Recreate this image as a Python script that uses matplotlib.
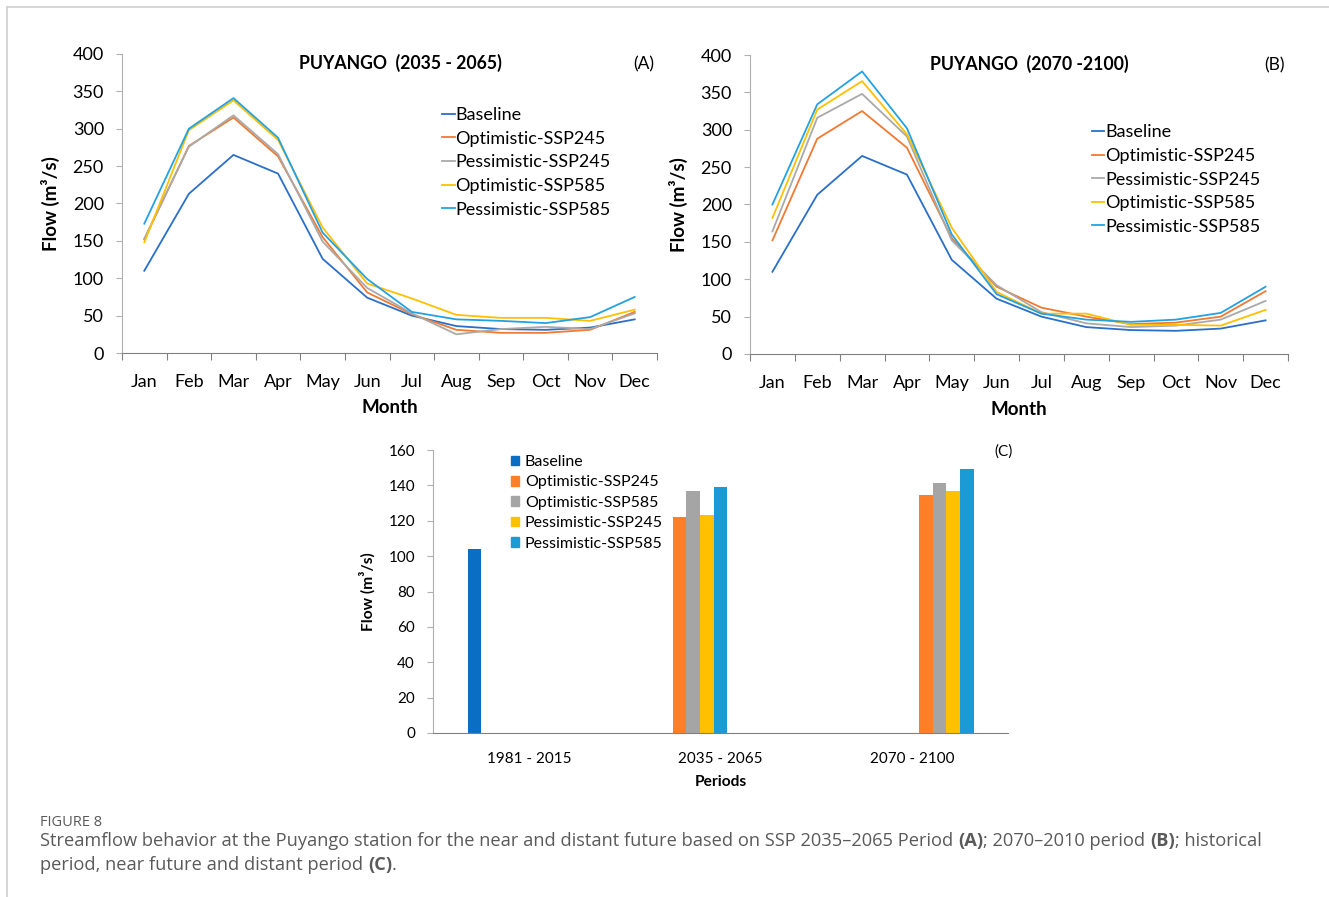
import numpy as np
import matplotlib
matplotlib.use("Agg")
import matplotlib.pyplot as plt
from matplotlib.lines import Line2D
from matplotlib.patches import Patch

# ---------------- data ----------------
months = ["Jan", "Feb", "Mar", "Apr", "May", "Jun", "Jul", "Aug", "Sep", "Oct", "Nov", "Dec"]
line_names = ["Baseline", "Optimistic-SSP245", "Pessimistic-SSP245", "Optimistic-SSP585", "Pessimistic-SSP585"]

baseline = [110, 213, 265, 240, 126, 74, 50, 36, 32, 31, 34, 45]

a_opt245 = [152, 277, 315, 263, 155, 81, 52, 31, 27, 27, 31, 55]
a_pes245 = [153, 276, 318, 266, 149, 87, 53, 25, 32, 35, 32, 53]
a_opt585 = [148, 298, 338, 285, 168, 93, 73, 51, 47, 47, 43, 58]
a_pes585 = [173, 300, 341, 288, 161, 99, 55, 45, 43, 40, 48, 75]

b_opt245 = [152, 288, 325, 276, 155, 90, 62, 50, 40, 42, 50, 84]
b_pes245 = [164, 316, 348, 291, 152, 92, 56, 41, 36, 38, 46, 71]
b_opt585 = [182, 327, 365, 294, 169, 83, 54, 54, 39, 39, 38, 59]
b_pes585 = [200, 334, 378, 302, 160, 80, 54, 46, 43, 46, 55, 90]

periods = ["1981 - 2015", "2035 - 2065", "2070 - 2100"]
bar_names = ["Baseline", "Optimistic-SSP245", "Optimistic-SSP585", "Pessimistic-SSP245", "Pessimistic-SSP585"]
bar_baseline = [104, None, None]
bar_opt245 = [None, 122, 134.5]
bar_opt585 = [None, 137, 141.5]
bar_pes245 = [None, 123, 137]
bar_pes585 = [None, 139, 149]

# ---------------- style ----------------
line_colors = ["#2A6FC9", "#F07A32", "#A9A9A9", "#FFC000", "#22A2E2"]
bar_colors = ["#0A6FC4", "#FF7F27", "#A5A5A5", "#FFC000", "#1B9AD6"]
FONT = "Lato"
W, H = 1329, 897
fig = plt.figure(figsize=(W / 100, H / 100), dpi=100)
plt.rcParams["font.family"] = [FONT, "DejaVu Sans"]


def ax_rect(l, r, t, b):
    return [l / W, 1 - b / H, (r - l) / W, (b - t) / H]


def style_line_axes(ax, xlabel_y):
    ax.set_xlim(-0.5, 11.5)
    ax.set_ylim(0, 400)
    ax.set_yticks(np.arange(0, 401, 50))
    ax.set_xticks(np.arange(-0.5, 12, 1))
    ax.set_xticklabels([])
    ax.set_xticks(np.arange(12), minor=True)
    ax.set_xticklabels(months, minor=True, fontsize=13)
    ax.tick_params(axis="x", which="major", length=5, color="#808080", direction="out")
    ax.tick_params(axis="x", which="minor", length=0, pad=15)
    ax.tick_params(axis="y", length=4, color="#B0B0B0", labelsize=13, pad=9)
    for s in ["top", "right"]:
        ax.spines[s].set_visible(False)
    ax.spines["left"].set_color("#B0B0B0")
    ax.spines["bottom"].set_color("#808080")
    ax.set_ylabel("Flow (m³/s)", fontsize=13.5, fontweight="bold")
    ax.yaxis.set_label_coords(-0.116, 0.5)
    ax.set_xlabel("Month", fontsize=13.5, fontweight="bold")
    ax.xaxis.set_label_coords(0.5, xlabel_y)


def draw_lines(ax, series, title, tag, title_x, leg_xy, xlabel_y):
    x = np.arange(12)
    handles = []
    for vals, c in zip(series, line_colors):
        h, = ax.plot(x, vals, color=c, lw=1.3)
        handles.append(h)
    style_line_axes(ax, xlabel_y)
    ax.text(title_x, 0.97, title, transform=ax.transAxes, ha="center", va="center",
            fontsize=12.7, fontweight="bold")
    ax.text(0.975, 0.965, tag, transform=ax.transAxes, ha="center", va="center", fontsize=12.5)
    ax.legend(handles, line_names, loc="upper left", bbox_to_anchor=leg_xy, frameon=False,
              handlelength=0.7, handletextpad=0.05, labelspacing=0.42, borderpad=0,
              borderaxespad=0, fontsize=13)


axA = fig.add_axes(ax_rect(122, 657, 54, 353))
draw_lines(axA, [baseline, a_opt245, a_pes245, a_opt585, a_pes585],
           "PUYANGO  (2035 - 2065)", "(A)", 0.521, (0.598, 0.822), -0.155)

axB = fig.add_axes(ax_rect(750, 1288, 55, 354))
draw_lines(axB, [baseline, b_opt245, b_pes245, b_opt585, b_pes585],
           "PUYANGO  (2070 -2100)", "(B)", 0.52, (0.635, 0.768), -0.156)

# ---------------- bar chart ----------------
axC = fig.add_axes(ax_rect(433, 1008, 450, 733))
bar_series = [bar_baseline, bar_opt245, bar_opt585, bar_pes245, bar_pes585]
nslots = 9
bw = 0.64 / nslots
for si, (vals, c) in enumerate(zip(bar_series, bar_colors)):
    for pi, v in enumerate(vals):
        if v is None:
            continue
        slot = 0 if si == 0 else 1 + 4 * (pi - 1) + (si - 1)
        axC.bar(pi + (slot - (nslots - 1) / 2) * bw, v, width=bw, color=c, linewidth=0)
axC.set_xlim(-0.5, 2.5)
axC.set_ylim(0, 160)
axC.set_yticks(np.arange(0, 161, 20))
axC.set_xticks(np.arange(3))
axC.set_xticklabels(periods, fontsize=11)
axC.tick_params(axis="x", length=0, pad=14)
axC.tick_params(axis="y", length=4, color="#B0B0B0", labelsize=11, pad=9)
for s in ["top", "right"]:
    axC.spines[s].set_visible(False)
axC.spines["left"].set_color("#B0B0B0")
axC.spines["bottom"].set_color("#808080")
axC.set_ylabel("Flow (m³/s)", fontsize=11.2, fontweight="bold")
axC.yaxis.set_label_coords(-0.099, 0.5)
axC.set_xlabel("Periods", fontsize=11.2, fontweight="bold")
axC.xaxis.set_label_coords(0.5, -0.15)
axC.text(0.993, 0.993, "(C)", transform=axC.transAxes, ha="center", va="center", fontsize=11)
axC.legend([Patch(color=c) for c in bar_colors], bar_names, loc="upper left",
           bbox_to_anchor=(0.135, 0.982), frameon=False, handlelength=0.55, handleheight=0.55,
           handletextpad=0.35, labelspacing=0.4, borderpad=0, borderaxespad=0, fontsize=11.5)

# ---------------- frame & caption ----------------
fig.add_artist(Line2D([7 / W, 1], [1 - 7 / H, 1 - 7 / H], color="#CFCFCF", lw=1.2))
fig.add_artist(Line2D([7 / W, 7 / W], [0, 1 - 7 / H], color="#CFCFCF", lw=1.2))

fig.text(40 / W, 1 - 822 / H, "FIGURE 8", fontsize=10.5, color="#5A5A5A", family="Open Sans",
         va="center")

renderer = fig.canvas.get_renderer()


def seg_width(s, weight, size):
    t1 = fig.text(0, 0, s + "|", fontsize=size, fontweight=weight, family="Open Sans")
    t2 = fig.text(0, 0, "|", fontsize=size, fontweight=weight, family="Open Sans")
    w = t1.get_window_extent(renderer).width - t2.get_window_extent(renderer).width
    t1.remove()
    t2.remove()
    return w


def rich_line(x_px, y_px, segments, size=12):
    x = x_px
    for s, wgt in segments:
        fig.text(x / W, 1 - y_px / H, s, fontsize=size, fontweight=wgt, family="Open Sans",
                 color="#5A5A5A", va="center")
        x += seg_width(s, wgt, size)


cap_size = 13.15
rich_line(40, 841, [
    ("Streamflow behavior at the Puyango station for the near and distant future based on SSP 2035\u20132065 Period ", "normal"),
    ("(A)", "bold"), ("; 2070\u20132010 period ", "normal"), ("(B)", "bold"), ("; historical", "normal")],
    size=cap_size)
rich_line(40, 865, [("period, near future and distant period ", "normal"), ("(C)", "bold"), (".", "normal")],
          size=cap_size)

fig.savefig("out.png", dpi=100)
